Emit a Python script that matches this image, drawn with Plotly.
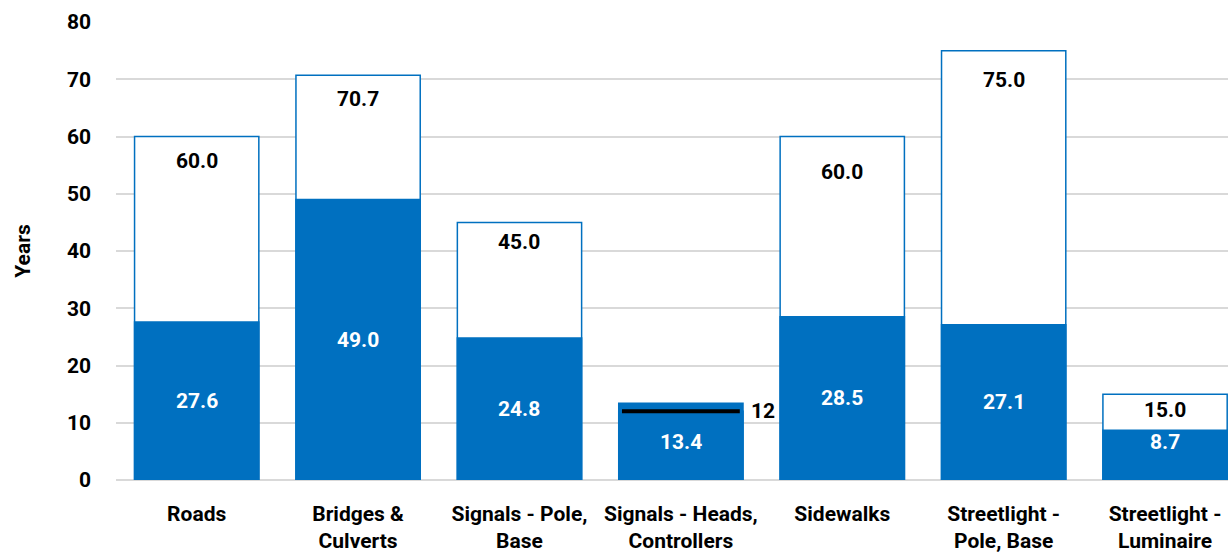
import plotly.graph_objects as go

categories = ["Roads", "Bridges &<br>Culverts", "Signals - Pole,<br>Base",
              "Signals - Heads,<br>Controllers", "Sidewalks",
              "Streetlight -<br>Pole, Base", "Streetlight -<br>Luminaire"]
useful_life = [60.0, 70.7, 45.0, 12.0, 60.0, 75.0, 15.0]
average_age = [27.6, 49.0, 24.8, 13.4, 28.5, 27.1, 8.7]

BLUE = "#0070C0"
FONT = "Roboto, Liberation Sans, sans-serif"
BAR_W = 0.77
# pixel offset of each useful-life label below the top of its outline bar
life_label_drop = [24, 24, 20, 0, 35, 29, 16]
# pixel lift of each average-age label above the middle of its filled bar
age_label_lift = [0, 0, 0, 0, 0, 0, 13]

x = list(range(len(categories)))

fig = go.Figure()
fig.add_trace(go.Bar(
    x=x, y=useful_life, width=BAR_W,
    marker=dict(color="white", line=dict(color=BLUE, width=1.5)),
    hoverinfo="skip", showlegend=False,
))
fig.add_trace(go.Bar(
    x=x, y=average_age, width=BAR_W,
    marker=dict(color=BLUE, line=dict(color=BLUE, width=1.5)),
    hoverinfo="skip", showlegend=False,
))

lbl_font = dict(family=FONT, size=21, color="black", weight="bold")
for i, (life, age) in enumerate(zip(useful_life, average_age)):
    # average age, centred in the filled bar
    fig.add_annotation(x=i, y=age / 2, text=f"{age:.1f}", showarrow=False,
                       yshift=age_label_lift[i],
                       font=dict(family=FONT, size=21, color="white", weight="bold"))
    if life < age:
        # useful life exceeded: mark it with a black line inside the bar
        fig.add_shape(type="line", xref="x", yref="y",
                      x0=i - BAR_W / 2 + 0.02, x1=i + BAR_W / 2 - 0.02,
                      y0=life, y1=life, line=dict(color="black", width=4))
        fig.add_annotation(x=i + BAR_W / 2, y=life, text=f"{life:g}",
                           showarrow=False, xanchor="left", xshift=6,
                           font=lbl_font)
    else:
        fig.add_annotation(x=i, y=life, text=f"{life:.1f}", showarrow=False,
                           yanchor="middle", yshift=-life_label_drop[i],
                           font=lbl_font)

fig.update_layout(
    width=1228, height=558,
    margin=dict(l=116, r=0, t=22, b=78),
    barmode="overlay",
    plot_bgcolor="white", paper_bgcolor="white",
    font=dict(family=FONT, size=20, color="black", weight="bold"),
)
fig.update_xaxes(
    tickmode="array", tickvals=x, ticktext=categories, tickangle=0,
    automargin=False, ticklabelstandoff=19,
    range=[-0.5, 6.39], showgrid=False, zeroline=False,
    showline=False, ticks="",
    tickfont=dict(family=FONT, size=21, color="black", weight="bold"),
)
fig.update_yaxes(
    range=[0, 80], dtick=10, showgrid=True, gridcolor="#D9D9D9", gridwidth=1.5,
    zeroline=True, zerolinecolor="#D9D9D9", zerolinewidth=1.5,
    ticklabelstandoff=24, automargin=False,
    tickfont=dict(family=FONT, size=21, color="black", weight="bold"),
    title=dict(text="Years", standoff=30,
               font=dict(family=FONT, size=21, color="black", weight="bold")),
)

fig.write_html("out.html")
